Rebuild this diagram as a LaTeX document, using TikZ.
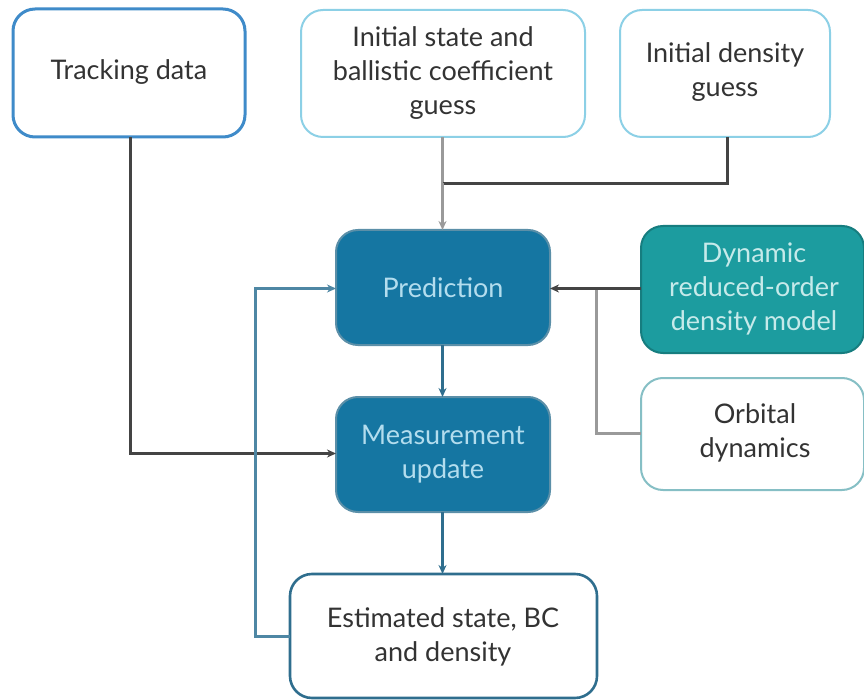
\documentclass[tikz,border=0pt]{standalone}
\usepackage{fontspec}
\setmainfont{Lato}
\usetikzlibrary{arrows.meta}
\definecolor{txt}{HTML}{333333}
\definecolor{trackblue}{HTML}{3F8BC9}
\definecolor{paleblue}{HTML}{8CD0E6}
\definecolor{predfill}{HTML}{1576A2}
\definecolor{predline}{HTML}{5B8FA8}
\definecolor{predtxt}{HTML}{B3DDEE}
\definecolor{tealfill}{HTML}{1C9C9F}
\definecolor{tealtxt}{HTML}{C6EAEA}
\definecolor{paleteal}{HTML}{86BFC5}
\definecolor{estline}{HTML}{2F6E8E}
\definecolor{loopline}{HTML}{4E87A4}
\definecolor{darkline}{HTML}{444444}
\definecolor{grayline}{HTML}{9A9A9A}
\tikzset{
  x=1pt, y=-1pt,
  every node/.style={font=\fontsize{27}{34}\selectfont, align=center, inner sep=0pt},
  box/.style={rounded corners=22pt, text=txt},
  outbox/.style={box, draw=paleblue, line width=2pt, fill=white},
  bluebox/.style={box, draw=predline, line width=2pt, fill=predfill, text=predtxt},
  link/.style={line width=3pt},
  tip/.style={-{Stealth[length=9pt,width=8pt]}},
}
\begin{document}
\begin{tikzpicture}
\useasboundingbox (0,0) rectangle (864,700);
% input boxes
\draw[box, draw=trackblue, line width=3pt, fill=white] (13,9) rectangle (245,137);
\node[text=txt] (track) at (129,72) {Tracking data};
\coordinate (trackS) at (130.5,137);
\draw[outbox] (301,10) rectangle (585,137);
\node[text=txt] (init) at (443,73) {Initial state and\\ballistic coefficient\\guess};
\coordinate (initS) at (442.5,137);
\draw[outbox] (620,10) rectangle (830,137);
\node[text=txt] (dens) at (725,72) {Initial density\\guess};
\coordinate (densS) at (727.5,137);
% filter steps
\draw[bluebox] (336,230) rectangle (550,345);
\node[text=predtxt] (pred) at (443,288) {Prediction};
\coordinate (predN) at (442.5,230);
\coordinate (predW) at (336,288.5);
\coordinate (predE) at (550,288.5);
\coordinate (predS) at (442.5,345);
\draw[bluebox] (336,397) rectangle (550,512);
\node[text=predtxt] (meas) at (443,454) {Measurement\\update};
\coordinate (measN) at (442.5,397);
\coordinate (measW) at (336,453.5);
\coordinate (measS) at (442.5,512);
% models
\draw[box, draw=tealfill!80!black, line width=2pt, fill=tealfill] (641,226) rectangle (864,353);
\node[text=tealtxt] (dyn) at (754,289) {Dynamic\\reduced-order\\density model};
\coordinate (dynW) at (641,288.5);
\draw[box, draw=paleteal, line width=2pt, fill=white] (641,378) rectangle (864,490);
\node[text=txt] (orb) at (755,433) {Orbital\\dynamics};
\coordinate (orbW) at (641,433.5);
% output
\draw[box, draw=estline, line width=2.6pt, fill=white] (290,574) rectangle (597,698);
\node[text=txt] (est) at (443,637) {Estimated state, BC\\and density};
\coordinate (estN) at (442.5,574);
\coordinate (estW) at (290,636.5);
% connectors
\coordinate (jtop) at (442.5,183.5);
\coordinate (jright) at (596.5,288.5);
\coordinate (loopSW) at (255.5,636.5);
\draw[link, grayline] (initS) -- (jtop);
\draw[link, darkline] (densS) |- (jtop);
\draw[link, tip, grayline] (jtop) -- (predN);
\draw[link, grayline] (jright) |- (orbW);
\draw[link, tip, darkline] (dynW) -- (predE);
\draw[link, tip, darkline] (trackS) |- (measW);
\draw[link, tip, estline] (predS) -- (measN);
\draw[link, tip, estline] (measS) -- (estN);
\draw[link, tip, loopline] (estW) -- (loopSW) |- (predW);
\end{tikzpicture}
\end{document}
